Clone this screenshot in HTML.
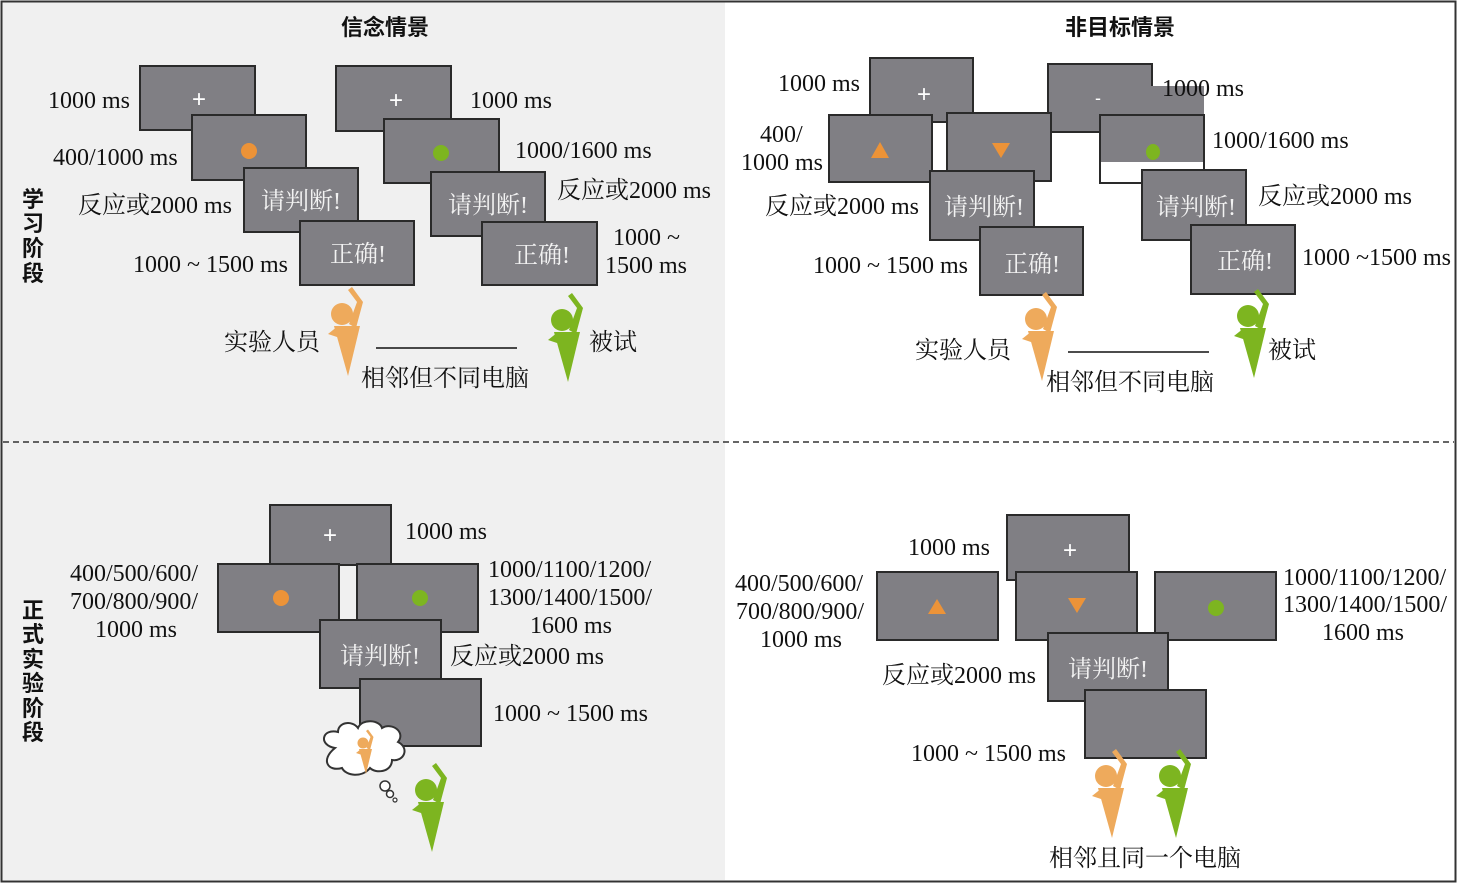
<!DOCTYPE html>
<html><head><meta charset="utf-8"><style>
html,body{margin:0;padding:0;background:#fff}
svg{display:block}
.t{font-family:"Liberation Serif","Noto Serif CJK SC",serif;font-size:24px;fill:#111}
.w{font-family:"Liberation Serif","Noto Serif CJK SC",serif;font-size:24px;fill:#f2f2f2}
.h{font-family:"Liberation Sans","Noto Sans CJK SC",sans-serif;font-size:22px;font-weight:bold;fill:#111}
.b{fill:#807f84;stroke:#2a2a2a;stroke-width:2}
</style></head><body>
<svg width="1457" height="883" viewBox="0 0 1457 883">
<defs>
<g id="p">
<circle cx="12" cy="24" r="11"/>
<polygon points="19,34 27,12 18,0 22,-3 33,12 26,38"/>
<polygon points="4,36 30,36 18,86"/>
<polygon points="-2,44 8,36 10,48"/>
</g>
</defs>
<rect x="0" y="0" width="1457" height="883" fill="#fff"/>
<rect x="2" y="2" width="723" height="878" fill="#f0f0f0"/>
<rect x="1.5" y="1.5" width="1454" height="880" fill="none" stroke="#333" stroke-width="2"/>
<line x1="3" y1="442" x2="1454" y2="442" stroke="#333" stroke-width="1.5" stroke-dasharray="6,4"/>

<text class="h" x="385" y="35" text-anchor="middle">信念情景</text>
<text class="h" x="1120" y="35" text-anchor="middle">非目标情景</text>
<g class="h" text-anchor="middle"><text x="33" y="207">学</text><text x="33" y="231">习</text><text x="33" y="256">阶</text><text x="33" y="281">段</text>
<text x="33" y="618">正</text><text x="33" y="642">式</text><text x="33" y="667">实</text><text x="33" y="691">验</text><text x="33" y="716">阶</text><text x="33" y="740">段</text></g>

<!-- top-left -->
<rect class="b" x="140" y="66" width="115" height="64"/>
<text x="199" y="107" fill="#fff" font-size="24" text-anchor="middle" font-family="Liberation Sans">+</text>
<rect class="b" x="192" y="115" width="114" height="65"/>
<circle cx="249" cy="151" r="8" fill="#ec9338"/>
<rect class="b" x="244" y="168" width="114" height="64"/>
<text class="w" x="301" y="209" text-anchor="middle">请判断!</text>
<rect class="b" x="300" y="221" width="114" height="64"/>
<text class="w" x="358" y="262" text-anchor="middle">正确!</text>
<rect class="b" x="336" y="66" width="115" height="65"/>
<text x="396" y="108" fill="#fff" font-size="24" text-anchor="middle" font-family="Liberation Sans">+</text>
<rect class="b" x="384" y="119" width="115" height="64"/>
<circle cx="441" cy="153" r="8" fill="#7db520"/>
<rect class="b" x="431" y="172" width="114" height="64"/>
<text class="w" x="488" y="213" text-anchor="middle">请判断!</text>
<rect class="b" x="482" y="222" width="115" height="63"/>
<text class="w" x="542" y="263" text-anchor="middle">正确!</text>
<g class="t">
<text x="48" y="108">1000 ms</text><text x="53" y="165">400/1000 ms</text><text x="78" y="213">反应或2000 ms</text><text x="133" y="272">1000 ~ 1500 ms</text>
<text x="470" y="108">1000 ms</text><text x="515" y="158">1000/1600 ms</text><text x="557" y="198">反应或2000 ms</text><text x="613" y="245">1000 ~</text><text x="605" y="273">1500 ms</text>
<text x="224" y="350">实验人员</text><text x="361" y="386">相邻但不同电脑</text><text x="589" y="350">被试</text>
</g>
<line x1="376" y1="348" x2="517" y2="348" stroke="#111" stroke-width="1.5"/>
<use href="#p" x="330" y="290" fill="#eeaa5c"/>
<use href="#p" x="550" y="296" fill="#7db520"/>

<!-- top-right -->
<rect class="b" x="1048" y="64" width="104" height="68"/>
<rect x="1151" y="86" width="53" height="30" fill="#807f84"/>
<text x="1098" y="104" fill="#fff" font-size="18" text-anchor="middle" font-family="Liberation Sans">-</text>
<rect x="1100" y="115" width="104" height="68" fill="#fff" stroke="#2a2a2a" stroke-width="2"/>
<rect x="1101" y="116" width="102" height="46" fill="#807f84"/>
<line x1="1100" y1="115" x2="1204" y2="115" stroke="#2a2a2a" stroke-width="2"/>
<ellipse cx="1153" cy="152" rx="7" ry="8" fill="#7db520"/>
<rect class="b" x="870" y="58" width="103" height="64"/>
<text x="924" y="102" fill="#fff" font-size="24" text-anchor="middle" font-family="Liberation Sans">+</text>
<rect class="b" x="829" y="115" width="103" height="67"/>
<polygon points="880,142 871,158 889,158" fill="#ec9338"/>
<rect class="b" x="947" y="113" width="104" height="68"/>
<polygon points="992,143 1010,143 1001,158" fill="#ec9338"/>
<rect class="b" x="930" y="171" width="104" height="69"/>
<text class="w" x="984" y="215" text-anchor="middle">请判断!</text>
<rect class="b" x="980" y="227" width="103" height="68"/>
<text class="w" x="1032" y="272" text-anchor="middle">正确!</text>
<rect class="b" x="1142" y="170" width="104" height="70"/>
<text class="w" x="1196" y="215" text-anchor="middle">请判断!</text>
<rect class="b" x="1191" y="225" width="104" height="69"/>
<text class="w" x="1245" y="269" text-anchor="middle">正确!</text>
<g class="t">
<text x="778" y="91">1000 ms</text><text x="760" y="142">400/</text><text x="741" y="170">1000 ms</text><text x="765" y="214">反应或2000 ms</text><text x="813" y="273">1000 ~ 1500 ms</text>
<text x="1162" y="96">1000 ms</text><text x="1212" y="148">1000/1600 ms</text><text x="1258" y="204">反应或2000 ms</text><text x="1302" y="265">1000 ~1500 ms</text>
<text x="915" y="358">实验人员</text><text x="1046" y="390">相邻但不同电脑</text><text x="1268" y="358">被试</text>
</g>
<line x1="1068" y1="352" x2="1209" y2="352" stroke="#111" stroke-width="1.5"/>
<use href="#p" x="1024" y="295" fill="#eeaa5c"/>
<use href="#p" x="1236" y="292" fill="#7db520"/>

<!-- bottom-left -->
<rect class="b" x="270" y="505" width="121" height="60"/>
<text x="330" y="543" fill="#fff" font-size="24" text-anchor="middle" font-family="Liberation Sans">+</text>
<rect class="b" x="218" y="564" width="121" height="68"/>
<circle cx="281" cy="598" r="8" fill="#ec9338"/>
<rect class="b" x="357" y="564" width="121" height="68"/>
<circle cx="420" cy="598" r="8" fill="#7db520"/>
<rect class="b" x="320" y="620" width="121" height="68"/>
<text class="w" x="380" y="664" text-anchor="middle">请判断!</text>
<rect class="b" x="360" y="679" width="121" height="67"/>
<g class="t">
<text x="405" y="539">1000 ms</text><text x="70" y="581">400/500/600/</text><text x="70" y="609">700/800/900/</text><text x="95" y="637">1000 ms</text>
<text x="488" y="577">1000/1100/1200/</text><text x="488" y="605">1300/1400/1500/</text><text x="530" y="633">1600 ms</text>
<text x="450" y="664">反应或2000 ms</text><text x="493" y="721">1000 ~ 1500 ms</text>
</g>
<path d="M335,748 C318,745 322,728 338,732 C338,722 352,720 358,728 C362,718 380,720 382,728 C392,722 406,732 398,742 C410,748 404,762 392,760 C392,772 376,774 370,768 C362,778 346,776 342,768 C328,772 320,760 335,748 Z" fill="#fff" stroke="#333" stroke-width="2"/>
<circle cx="385" cy="786" r="5" fill="#fff" stroke="#333" stroke-width="1.5"/>
<circle cx="390" cy="794" r="3.5" fill="#fff" stroke="#333" stroke-width="1.5"/>
<circle cx="395" cy="800" r="2" fill="#fff" stroke="#333" stroke-width="1.2"/>
<use href="#p" transform="translate(357,731) scale(0.5)" fill="#eeaa5c"/>
<use href="#p" x="414" y="766" fill="#7db520"/>

<!-- bottom-right -->
<rect class="b" x="1007" y="515" width="122" height="65"/>
<text x="1070" y="558" fill="#fff" font-size="24" text-anchor="middle" font-family="Liberation Sans">+</text>
<rect class="b" x="877" y="572" width="121" height="68"/>
<polygon points="937,599 928,614 946,614" fill="#ec9338"/>
<rect class="b" x="1016" y="572" width="121" height="68"/>
<polygon points="1068,598 1086,598 1077,613" fill="#ec9338"/>
<rect class="b" x="1155" y="572" width="121" height="68"/>
<circle cx="1216" cy="608" r="8" fill="#7db520"/>
<rect class="b" x="1048" y="633" width="120" height="68"/>
<text class="w" x="1108" y="677" text-anchor="middle">请判断!</text>
<rect class="b" x="1085" y="690" width="121" height="68"/>
<g class="t">
<text x="908" y="555">1000 ms</text><text x="735" y="591">400/500/600/</text><text x="736" y="619">700/800/900/</text><text x="760" y="647">1000 ms</text>
<text x="1283" y="585">1000/1100/1200/</text><text x="1283" y="612">1300/1400/1500/</text><text x="1322" y="640">1600  ms</text>
<text x="882" y="683">反应或2000 ms</text><text x="911" y="761">1000 ~ 1500 ms</text>
<text x="1049" y="866">相邻且同一个电脑</text>
</g>
<use href="#p" x="1094" y="752" fill="#eeaa5c"/>
<use href="#p" x="1158" y="752" fill="#7db520"/>
</svg>
</body></html>
